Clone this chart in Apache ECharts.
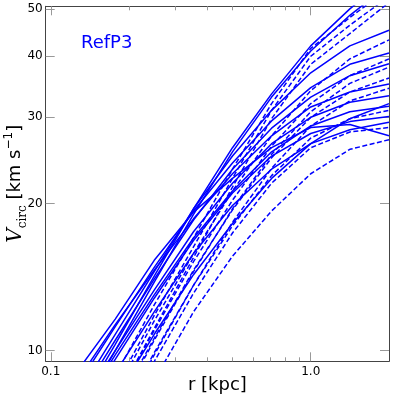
<!DOCTYPE html>
<html><head><meta charset="utf-8">
<script src="https://cdn.jsdelivr.net/npm/echarts@6/dist/echarts.min.js"></script>
<style>html,body{margin:0;padding:0;background:#fff}#c{width:394px;height:399px}</style>
</head><body><div id="c"></div>
<script>
// radii (kpc) at which each curve is sampled
const radii = [0.088, 0.125, 0.177, 0.25, 0.354, 0.5, 0.707, 1.0, 1.414, 2.0];

// solid curves (V_circ, km/s)
const s1  = [5.5, 7.5, 10.3, 14.2, 19.5, 26.0, 33.5, 42.0, 50.0, 58.0];
const s2  = [5.2, 7.2, 10.0, 13.8, 19.0, 25.5, 33.0, 41.0, 48.5, 56.0];
const s3  = [6.0, 8.0, 10.8, 14.5, 19.5, 25.0, 31.0, 37.0, 42.0, 45.2];
const s4  = [6.3, 8.4, 11.2, 14.8, 19.3, 24.2, 29.5, 34.5, 38.5, 40.6];
const s5  = [5.8, 7.8, 10.5, 14.0, 18.5, 23.5, 28.5, 33.0, 36.5, 38.6];
const s6  = [6.5, 8.6, 11.3, 14.6, 18.6, 23.0, 27.5, 31.5, 33.8, 35.1];
const s7  = [5.6, 7.5, 10.0, 13.3, 17.5, 22.0, 26.5, 30.0, 32.2, 33.2];
const s8  = [5.3, 7.1, 9.6, 12.8, 16.8, 21.0, 25.0, 27.8, 29.4, 30.1];
const s9  = [7.0, 9.0, 11.6, 15.3, 19.2, 22.5, 26.0, 28.6, 29.0, 27.5];
const s10 = [5.0, 6.7, 9.0, 12.0, 15.8, 19.8, 23.5, 26.5, 28.3, 29.3];
const s11 = [5.5, 7.3, 9.8, 13.0, 17.0, 21.2, 25.5, 28.8, 30.8, 31.6];
const s12 = [4.5, 6.0, 8.0, 10.8, 14.3, 18.2, 22.5, 26.5, 29.8, 32.0];

// dashed curves (V_circ, km/s)
const d1  = [4.6, 6.4, 8.9, 12.4, 17.0, 23.5, 32.0, 41.5, 48.0, 55.0];
const d2  = [4.3, 6.0, 8.4, 11.8, 16.3, 22.5, 31.0, 40.0, 46.3, 53.0];
const d3  = [4.0, 5.6, 7.9, 11.1, 15.5, 21.6, 29.8, 38.5, 44.5, 51.5];
const d4  = [4.2, 5.8, 8.2, 11.5, 15.8, 21.2, 27.5, 34.0, 39.5, 43.2];
const d5  = [4.0, 5.6, 7.9, 11.0, 15.2, 20.3, 26.2, 32.0, 36.5, 39.5];
const d6  = [3.8, 5.3, 7.5, 10.5, 14.5, 19.5, 25.2, 30.8, 35.2, 38.0];
const d7  = [3.9, 5.4, 7.6, 10.6, 14.6, 19.4, 24.8, 30.0, 33.8, 36.1];
const d8  = [3.6, 5.0, 7.0, 9.8, 13.6, 18.3, 23.6, 28.8, 32.4, 34.4];
const d9  = [3.7, 5.1, 7.1, 9.9, 13.6, 18.0, 22.8, 27.2, 29.8, 31.0];
const d10 = [3.5, 4.9, 6.8, 9.5, 13.1, 17.4, 22.0, 26.0, 28.0, 28.6];
const d11 = [3.2, 4.4, 6.2, 8.7, 12.0, 15.6, 19.3, 23.0, 25.8, 27.0];

const solidCurves = [s1, s2, s3, s4, s5, s6, s7, s8, s9, s10, s11, s12];
const dashedCurves = [d1, d2, d3, d4, d5, d6, d7, d8, d9, d10, d11];

// ticks
const xMajorTicks = [0.1, 1.0];
const xMinorTicks = [0.2, 0.3, 0.4, 0.5, 0.6, 0.7, 0.8, 0.9];
const yTicks = [10, 20, 30, 40, 50];

const X_MIN = 0.0956, X_MAX = 2.0, Y_MIN = 9.51, Y_MAX = 50.6;
const BLUE = '#0000ff';
const FONT = 'DejaVu Sans';

function mkSeries(vals, dashed) {
  return {
    type: 'line',
    data: radii.map((r, i) => [r, vals[i]]),
    showSymbol: false,
    symbol: 'none',
    clip: true,
    silent: true,
    lineStyle: { color: BLUE, width: 1.5, type: dashed ? [5, 2.5] : 'solid' },
    xAxisIndex: 0, yAxisIndex: 0
  };
}

function xAx(pos, ticks, len, withLine, withLabel) {
  const ax = {
    type: 'log', logBase: 10, min: X_MIN, max: X_MAX, position: pos,
    axisLine: { show: withLine, lineStyle: { color: '#444', width: 1 } },
    axisTick: { show: true, inside: true, length: len, customValues: ticks,
                lineStyle: { color: '#999', width: 1 } },
    axisLabel: { show: withLabel, customValues: ticks, margin: 5,
                 formatter: v => Number(v).toFixed(1),
                 color: '#000', fontSize: 12, fontFamily: FONT },
    splitLine: { show: false }, minorTick: { show: false }
  };
  if (withLabel) {
    ax.name = 'r [kpc]';
    ax.nameLocation = 'middle';
    ax.nameGap = 15;
    ax.nameMoveOverlap = false;
    ax.nameTextStyle = { fontSize: 18, fontFamily: FONT, color: '#000' };
  }
  return ax;
}

function yAx(pos, withLabel) {
  const ax = {
    type: 'log', logBase: 10, min: Y_MIN, max: Y_MAX, position: pos,
    axisLine: { show: true, lineStyle: { color: '#444', width: 1 } },
    axisTick: { show: true, inside: true, length: 9, customValues: yTicks,
                lineStyle: { color: '#999', width: 1 } },
    axisLabel: { show: withLabel, customValues: yTicks, margin: 3,
                 formatter: v => String(Math.round(v)),
                 color: '#000', fontSize: 12, fontFamily: FONT },
    splitLine: { show: false }, minorTick: { show: false }
  };
  if (withLabel) {
    ax.name = '{v|V}{s|circ}{t| [km s}{p|−1}{t|]}';
    ax.nameLocation = 'middle';
    ax.nameRotate = 90;
    ax.nameGap = 17;
    ax.nameMoveOverlap = false;
    ax.nameTextStyle = {
      color: '#000',
      rich: {
        v: { fontFamily: 'DejaVu Serif', fontStyle: 'italic', fontSize: 20, color: '#000', verticalAlign: 'middle', lineHeight: 26 },
        s: { fontFamily: 'DejaVu Serif', fontSize: 12, color: '#000', verticalAlign: 'bottom' },
        t: { fontFamily: FONT, fontSize: 18, color: '#000', verticalAlign: 'middle', lineHeight: 26 },
        p: { fontFamily: FONT, fontSize: 12, color: '#000', verticalAlign: 'top' }
      }
    };
  }
  return ax;
}

const chart = echarts.init(document.getElementById('c'), null, { renderer: 'canvas' });
chart.setOption({
  animation: false,
  backgroundColor: '#fff',
  grid: { left: 45.7, right: 5, top: 6.3, bottom: 37.7, containLabel: false, outerBoundsMode: 'none' },
  xAxis: [
    xAx('bottom', xMajorTicks, 9, true, true),
    xAx('bottom', xMinorTicks, 4, false, false),
    xAx('top', xMajorTicks, 9, true, false),
    xAx('top', xMinorTicks, 4, false, false)
  ],
  yAxis: [yAx('left', true), yAx('right', false)],
  graphic: [{
    type: 'text', left: 81, top: 34,
    style: { text: 'RefP3', fill: BLUE, fontSize: 18, fontFamily: FONT }
  }],
  series: solidCurves.map(c => mkSeries(c, false)).concat(dashedCurves.map(c => mkSeries(c, true)))
});
</script></body></html>
